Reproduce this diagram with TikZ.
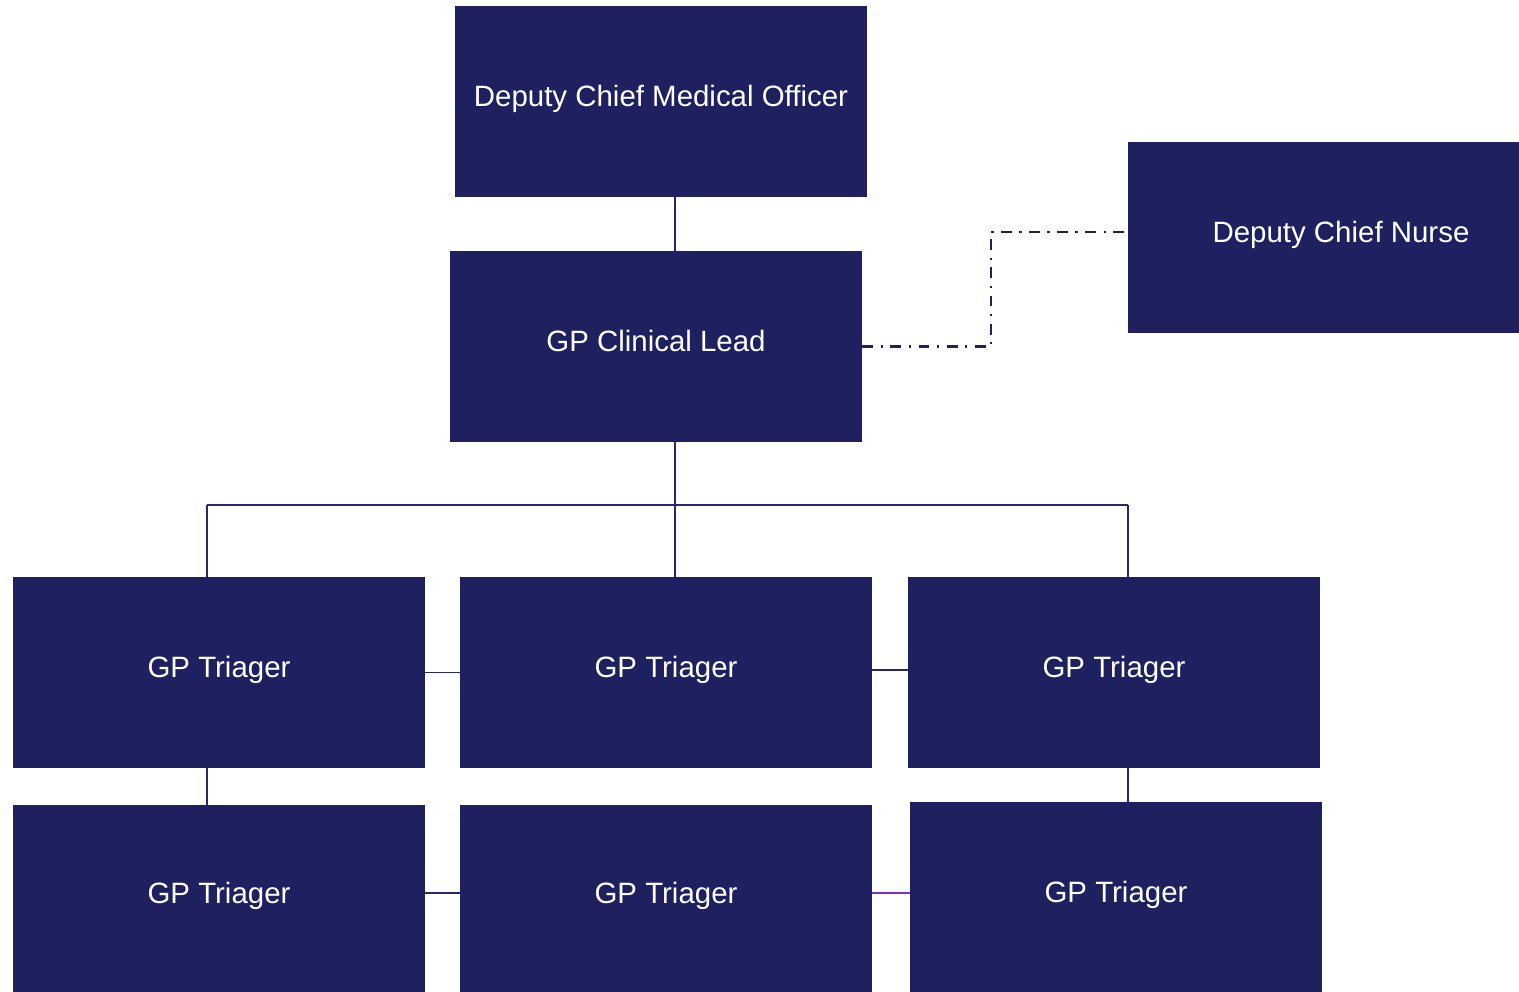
\documentclass[tikz,border=0pt]{standalone}
\usepackage{fontspec}
\setmainfont{Liberation Sans}
\usepackage{tikz}
\usetikzlibrary{arrows.meta,positioning,calc}
\definecolor{OrgNavy}{RGB}{30,32,96}
\definecolor{OrgLine}{RGB}{40,40,110}
\definecolor{OrgViolet}{RGB}{128,48,200}
\tikzset{
  rolebox/.style={draw=none,fill=OrgNavy,text=white,minimum width=8.24cm,minimum height=3.82cm,inner sep=0pt,align=center,text height=0.42cm,text depth=0.21cm,font=\fontsize{16.75}{20}\selectfont},
  link/.style={OrgLine,line width=0.6pt},
  vlink/.style={OrgViolet,line width=0.9pt},
  dotline/.style={OrgNavy,line width=1.3pt,dash pattern=on 6.2pt off 4.2pt on 1.4pt off 4.2pt},
}
\begin{document}
\begin{tikzpicture}
    \useasboundingbox (0,0) rectangle (30.38,-19.84);
    %% Top
    \node[rolebox] (dcmo) at (13.22,-2.03) {Deputy Chief Medical Officer};
    \node[rolebox,minimum width=7.82cm] (dcn) at (26.47,-4.75) {\hspace*{0.7cm}Deputy Chief Nurse};
    \node[rolebox] (gpcl) at (13.12,-6.93) {GP Clinical Lead};
    %% Triagers
    \node[rolebox] (tri1) at (4.38,-13.45) {GP Triager};
    \node[rolebox] (tri2) at (13.32,-13.45) {GP Triager};
    \node[rolebox] (tri3) at (22.28,-13.45) {GP Triager};
    \node[rolebox,minimum height=3.74cm] (tri4) at (4.38,-17.97) {GP Triager};
    \node[rolebox,minimum height=3.74cm] (tri5) at (13.32,-17.97) {GP Triager};
    \node[rolebox,minimum height=3.80cm] (tri6) at (22.32,-17.94) {GP Triager};
    %% Bus
    \coordinate (busL) at (4.14,-10.1);
    \coordinate (busM) at (13.5,-10.1);
    \coordinate (busR) at (22.56,-10.1);
    \coordinate (bend) at (19.82,0);
    %% Lines
    \draw[link] (dcmo.south -| busM)--(gpcl.north -| busM);
    \draw[link] (gpcl.south -| busM)--(busM);
    \draw[link] (busL)--(busR);
    \draw[link] (busL)--(tri1.north -| busL);
    \draw[link] (busM)--(tri2.north -| busM);
    \draw[link] (busR)--(tri3.north -| busR);
    \draw[link] (tri1.east)--(tri2.west);
    \draw[link] ([yshift=0.05cm]tri2.east)--([yshift=0.05cm]tri3.west);
    \draw[link] (tri1.south -| busL)--(tri4.north -| busL);
    \draw[link] (tri3.south -| busR)--(tri6.north -| busR);
    \draw[link] ([yshift=0.11cm]tri4.east)--([yshift=0.11cm]tri5.west);
    \draw[vlink] ([yshift=0.11cm]tri5.east)--([yshift=0.11cm]tri5.east -| tri6.west);
    \draw[dotline] (gpcl.east)--(gpcl.east -| bend)|-([yshift=0.11cm]dcn.west);
  \end{tikzpicture}
\end{document}
